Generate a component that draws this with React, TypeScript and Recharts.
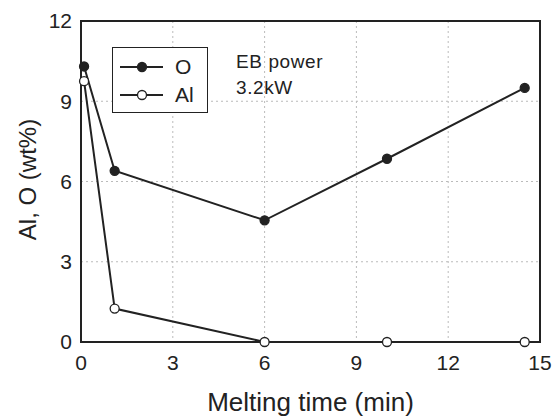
import {
  LineChart,
  Line,
  XAxis,
  YAxis,
  CartesianGrid,
  ReferenceArea,
  Legend,
} from "recharts";

// values
const meltTime = [0.1, 1.1, 6, 10, 14.5];
const oxygen = [10.3, 6.4, 4.55, 6.85, 9.5];
const aluminium = [9.75, 1.25, 0, 0, 0];
const xTicks = [0, 3, 6, 9, 12, 15];
const yTicks = [0, 3, 6, 9, 12];

const INK = "#222";
const FONT = "'Liberation Sans', Arial, sans-serif";

const rows = meltTime.map((t, i) => ({ t, O: oxygen[i], Al: aluminium[i] }));

const SERIES = [
  { key: "O", fill: INK },
  { key: "Al", fill: "#fff" },
];

function LegendBox(): JSX.Element {
  return (
    <div
      style={{
        border: `1.5px solid ${INK}`,
        background: "#fff",
        width: 94,
        padding: "5px 0 3px 0",
        fontFamily: FONT,
        fontSize: 21,
        color: INK,
      }}
    >
      {SERIES.map((s) => (
        <div key={s.key} style={{ display: "flex", alignItems: "center", height: 28 }}>
          <svg width={60} height={14}>
            <line x1={7} y1={7} x2={50} y2={7} stroke={INK} strokeWidth={2} />
            <circle cx={29} cy={7} r={4.5} fill={s.fill} stroke={INK} strokeWidth={1.3} />
          </svg>
          <span style={{ marginLeft: 2 }}>{s.key}</span>
        </div>
      ))}
    </div>
  );
}

export default function App(): JSX.Element {
  return (
    <div style={{ position: "absolute", left: 0, top: 0, width: 555, height: 416, background: "#fff" }}>
      <LineChart
        width={555}
        height={416}
        data={rows}
        margin={{ top: 21, right: 15, bottom: 0, left: 0 }}
        style={{ fontFamily: FONT }}
      >
        <CartesianGrid stroke="#bbb" strokeDasharray="2 3" strokeWidth={1} />
        <XAxis
          type="number"
          dataKey="t"
          domain={[0, 15]}
          ticks={xTicks}
          height={74}
          tickLine={false}
          axisLine={false}
          tickMargin={7}
          tick={{ fill: INK, fontSize: 21 }}
          label={{ value: "Melting time (min)", position: "insideBottom", offset: 5, fill: INK, fontSize: 26 }}
        />
        <YAxis
          type="number"
          domain={[0, 12]}
          ticks={yTicks}
          width={81}
          tickLine={false}
          axisLine={false}
          tickMargin={3}
          tick={{ fill: INK, fontSize: 21 }}
          label={{ value: "Al, O (wt%)", angle: -90, position: "center", dx: -13, dy: -2, fill: INK, fontSize: 24 }}
        />
        <ReferenceArea x1={0} x2={15} y1={0} y2={12} fill="none" stroke={INK} strokeWidth={2} />
        <Legend
          layout="horizontal"
          verticalAlign="middle"
          align="center"
          wrapperStyle={{ left: 112, top: 47, width: "auto" }}
          content={() => <LegendBox />}
        />
        <Line
          dataKey="O"
          stroke={INK}
          strokeWidth={2}
          dot={{ r: 4.5, fill: INK, stroke: INK, strokeWidth: 1.3 }}
          isAnimationActive={false}
        />
        <Line
          dataKey="Al"
          stroke={INK}
          strokeWidth={2}
          dot={{ r: 4.5, fill: "#fff", stroke: INK, strokeWidth: 1.3 }}
          isAnimationActive={false}
        />
      </LineChart>
      <div
        style={{
          position: "absolute",
          left: 236,
          top: 49,
          fontFamily: FONT,
          fontSize: 19,
          letterSpacing: 0.6,
          lineHeight: "26px",
          color: INK,
        }}
      >
        EB power
        <br />
        3.2kW
      </div>
    </div>
  );
}
